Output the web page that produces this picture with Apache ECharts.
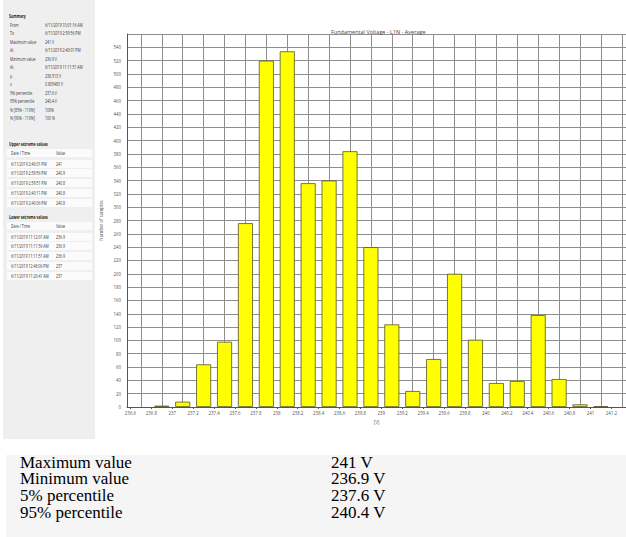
<!DOCTYPE html>
<html>
<head>
<meta charset="utf-8">
<script src="https://cdn.jsdelivr.net/npm/echarts@6/dist/echarts.min.js"></script>
<style>
  html, body { margin: 0; padding: 0; background: #ffffff; }
  body { width: 626px; height: 537px; position: relative; overflow: hidden; }
  #chart { position: absolute; left: 0; top: 0; width: 626px; height: 537px; }
  #side { position: absolute; left: 3px; top: 0; width: 92px; height: 439px; background: #efefef;
          font-family: "Open Sans", "Noto Sans", sans-serif; color: #333; }
  #side .t { position: absolute; font-size: 4.4px; line-height: 6px; white-space: nowrap;
             transform: scaleX(0.8); transform-origin: 0 50%; }
  #side .h { font-weight: bold; color: #222; }
  #side .row { position: absolute; left: 4px; width: 85px; height: 8px; background: #fbfbfb; }
  #stats { position: absolute; left: 6px; top: 455px; width: 620px; height: 82px; background: #f5f5f5;
           font-family: "Liberation Serif", "DejaVu Serif", serif; font-size: 17px; color: #000; }
  #stats .col { position: absolute; top: -0.5px; white-space: pre; line-height: 16.7px; }
</style>
</head>
<body>
<div id="chart"></div>
<div id="side"></div>
<div id="stats"><div class="col" id="statNames" style="left:14px"></div><div class="col" id="statVals" style="left:325px"></div></div>
<script>
// Histogram bins (centre of each 0.2 V bin) and sample counts
const binCenters = [236.9, 237.1, 237.3, 237.5, 237.7, 237.9, 238.1, 238.3, 238.5, 238.7, 238.9,
                    239.1, 239.3, 239.5, 239.7, 239.9, 240.1, 240.3, 240.5, 240.7, 240.9, 241.1];
const sampleCounts = [2, 8, 64, 98, 276, 520, 534, 336, 340, 384, 240,
                      124, 24, 72, 200, 101, 36, 39, 138, 42, 4, 1];

// Voltage tick labels and vertical grid positions
const xLabelValues = [236.6, 236.8, 237.0, 237.2, 237.4, 237.6, 237.8, 238.0, 238.2, 238.4, 238.6, 238.8,
                      239.0, 239.2, 239.4, 239.6, 239.8, 240.0, 240.2, 240.4, 240.6, 240.8, 241.0, 241.2];
const xGridValues = [236.7, 236.9, 237.1, 237.3, 237.5, 237.7, 237.9, 238.1, 238.3, 238.5, 238.7, 238.9,
                     239.1, 239.3, 239.5, 239.7, 239.9, 240.1, 240.3, 240.5, 240.7, 240.9, 241.1, 241.3];

// Summary panel texts
const summaryLabels = ["From", "To", "Maximum value", "At", "Minimum value", "At", "\u03bc", "s",
                       "5% percentile", "95% percentile", "% [85% - 110%]", "% [90% - 110%]"];
const summaryValues = ["6/11/2019 10:01:16 AM", "6/11/2019 2:59:56 PM", "241  V", "6/11/2019 2:40:01 PM",
                       "236.9  V", "6/11/2019 11:11:51 AM", "238.513 V", "0.805483 V",
                       "237.6 V", "240.4 V", "100%", "100 %"];
const upperTimes = ["6/11/2019 2:40:01 PM", "6/11/2019 2:59:56 PM", "6/11/2019 2:59:51 PM",
                    "6/11/2019 2:40:11 PM", "6/11/2019 2:40:06 PM"];
const upperValues = ["241", "240.9", "240.8", "240.8", "240.8"];
const lowerTimes = ["6/11/2019 11:12:01 AM", "6/11/2019 11:11:56 AM", "6/11/2019 11:11:51 AM",
                    "6/11/2019 12:48:06 PM", "6/11/2019 11:20:41 AM"];
const lowerValues = ["236.9", "236.9", "236.9", "237", "237"];

// Statistics table below the chart
const statLabels = ["Maximum value", "Minimum value", "5% percentile", "95% percentile"];
const statValues = ["241 V", "236.9 V", "237.6 V", "240.4 V"];

// ---- side panel ----
const side = document.getElementById('side');
function addText(txt, x, cy, cls) {
  const d = document.createElement('div');
  d.className = 't' + (cls ? ' ' + cls : '');
  d.textContent = txt;
  d.style.left = x + 'px';
  d.style.top = (cy - 3) + 'px';
  side.appendChild(d);
}
function addRow(cy) {
  const r = document.createElement('div');
  r.className = 'row';
  r.style.top = (cy - 4) + 'px';
  side.appendChild(r);
}
addText('Summary', 6, 16, 'h');
summaryLabels.forEach((l, i) => {
  const cy = 24.5 + i * 8.5;
  addText(l, 7, cy);
  addText(summaryValues[i], 42, cy);
});
function extremeTable(title, top, times, values) {
  addText(title, 6, top, 'h');
  addRow(top + 9); addText('Date / Time', 7.5, top + 9); addText('Value', 53, top + 9);
  times.forEach((t, i) => {
    const cy = top + 19.5 + i * 9.8;
    addRow(cy);
    addText(t, 7.5, cy);
    addText(values[i], 53, cy);
  });
}
extremeTable('Upper extreme values', 144, upperTimes, upperValues);
extremeTable('Lower extreme values', 217, lowerTimes, lowerValues);

// ---- statistics table (two text columns) ----
document.getElementById('statNames').textContent = statLabels.join('\n');
document.getElementById('statVals').textContent = statValues.join('\n');

// ---- histogram ----
const chart = echarts.init(document.getElementById('chart'), null, { renderer: 'svg' });
const font = '"Open Sans", "Noto Sans", sans-serif';
const xMin = 236.567, xMax = 241.34;
const gridColor = '#8e8e8e';
chart.setOption({
  animation: false,
  title: {
    text: 'Fundamental Voltage - L1N - Average',
    left: 326, top: 24,
    textStyle: { fontFamily: font, fontSize: 5.5, fontWeight: 'normal', color: '#444' }
  },
  grid: { left: 127, right: 0, top: 34, bottom: 130, containLabel: false },
  xAxis: [{
    type: 'value', min: xMin, max: xMax, position: 'bottom',
    name: '[V]', nameLocation: 'middle', nameGap: 11,
    nameTextStyle: { fontFamily: font, fontSize: 4.6, color: '#666' },
    axisLine: { show: true, lineStyle: { color: '#555', width: 1 } },
    axisTick: { show: true, length: 2, customValues: xLabelValues, lineStyle: { color: '#555' } },
    axisLabel: { customValues: xLabelValues, fontFamily: font, fontSize: 4.4, color: '#555', margin: 4,
                 formatter: v => String(+v.toFixed(1)) },
    splitLine: { show: false }
  }, {
    type: 'value', min: xMin, max: xMax, position: 'bottom', offset: 0,
    axisLine: { show: false },
    axisTick: { show: false, customValues: xGridValues },
    axisLabel: { show: false, customValues: xGridValues },
    splitLine: { show: true, lineStyle: { color: gridColor, width: 1 } }
  }],
  yAxis: {
    type: 'value', min: 0, max: 560, interval: 20,
    name: 'Number of samples', nameLocation: 'middle', nameGap: 10, nameRotate: 90,
    nameTextStyle: { fontFamily: font, fontSize: 4.4, color: '#555' },
    axisLine: { show: true, lineStyle: { color: '#555', width: 1 } },
    axisTick: { show: false },
    axisLabel: { fontFamily: font, fontSize: 4.4, color: '#555', margin: 6,
                 formatter: v => (v >= 560 ? '' : String(v)) },
    splitLine: { show: true, lineStyle: { color: gridColor, width: 1 } }
  },
  series: [{
    type: 'bar',
    xAxisIndex: 0,
    barWidth: 15,
    data: binCenters.map((c, i) => [c, sampleCounts[i]]),
    itemStyle: { color: '#ffff00', borderColor: '#55552a', borderWidth: 0.8 }
  }]
});
</script>
</body>
</html>
